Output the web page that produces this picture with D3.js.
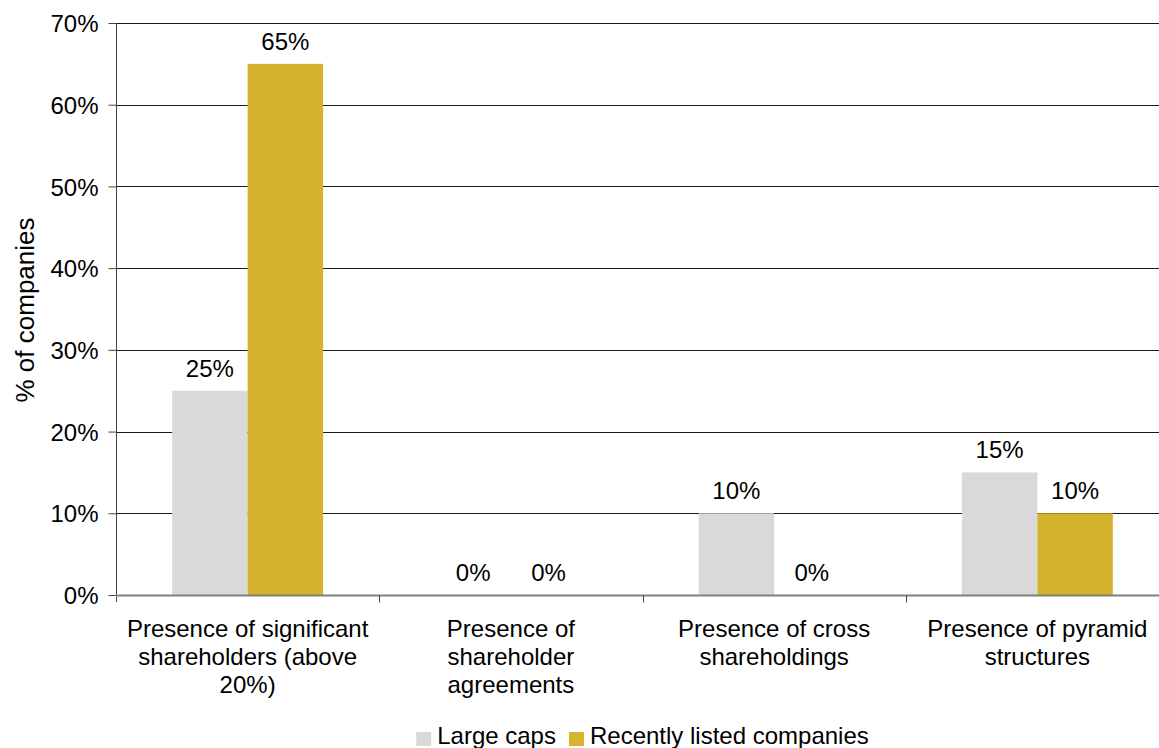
<!DOCTYPE html>
<html>
<head>
<meta charset="utf-8">
<script src="https://cdn.jsdelivr.net/npm/d3@7"></script>
<style>
  html, body { margin: 0; padding: 0; background: #fff; }
  svg { display: block; font-family: "Liberation Sans", Arial, sans-serif; }
</style>
</head>
<body>
<svg id="chart" width="1159" height="748"></svg>
<script>
const categories = [
  "Presence of significant shareholders (above 20%)",
  "Presence of shareholder agreements",
  "Presence of cross shareholdings",
  "Presence of pyramid structures"
];
const categoryLines = [
  ["Presence of significant", "shareholders (above", "20%)"],
  ["Presence of", "shareholder", "agreements"],
  ["Presence of cross", "shareholdings"],
  ["Presence of pyramid", "structures"]
];
const seriesNames = ["Large caps", "Recently listed companies"];
const largeCaps = [0.25, 0.00, 0.10, 0.15];
const recentlyListed = [0.65, 0.00, 0.00, 0.10];
const yTicks = [0, 0.1, 0.2, 0.3, 0.4, 0.5, 0.6, 0.7];
const colors = ["#d9d9d9", "#d6b32c"];

const FONT = 24;
const svg = d3.select("#chart");
const mLeft = 116, mRight = 1169, mTop = 23, mBottom = 595;

const x0 = d3.scaleBand().domain(categories).range([mLeft, mRight]).padding(0);
const x1 = d3.scaleBand().domain(seriesNames).range([0, x0.bandwidth()]).paddingInner(0).paddingOuter(0.744);
const y = d3.scaleLinear().domain([0, 0.7]).range([mBottom, mTop]);

// gridlines
svg.append("g").selectAll("line").data(yTicks.filter(d => d > 0)).join("line")
  .attr("x1", mLeft).attr("x2", 1159)
  .attr("y1", d => Math.round(y(d)) + 0.5).attr("y2", d => Math.round(y(d)) + 0.5)
  .attr("stroke", "#1a1a1a").attr("stroke-width", 1);

// y axis
const yAxis = d3.axisLeft(y).tickValues(yTicks).tickFormat(d3.format(".0%")).tickSize(8).tickPadding(10);
const gy = svg.append("g").attr("transform", `translate(${mLeft + 0.5},0)`).call(yAxis);
gy.select(".domain").attr("stroke", "#444").attr("d", `M0,${mTop}V${mBottom + 7}`);
gy.selectAll(".tick line").attr("stroke", "#444");
gy.selectAll(".tick text").attr("font-size", FONT).attr("fill", "#000").attr("font-family", "Liberation Sans, Arial, sans-serif").attr("dy", "0.36em");

// bars
const data = categories.map((c, i) => ({ c, vals: [largeCaps[i], recentlyListed[i]] }));
const groups = svg.append("g").selectAll("g").data(data).join("g")
  .attr("transform", d => `translate(${x0(d.c)},0)`);
groups.selectAll("rect").data(d => d.vals.map((v, j) => ({ v, s: seriesNames[j], j }))).join("rect")
  .attr("x", d => x1(d.s)).attr("width", x1.bandwidth())
  .attr("y", d => y(d.v)).attr("height", d => y(0) - y(d.v))
  .attr("fill", d => colors[d.j]);
groups.selectAll("text").data(d => d.vals.map((v, j) => ({ v, s: seriesNames[j], j }))).join("text")
  .attr("x", d => x1(d.s) + x1.bandwidth() / 2).attr("y", d => y(d.v) - 14)
  .attr("text-anchor", "middle").attr("font-size", FONT).attr("fill", "#000")
  .text(d => d3.format(".0%")(d.v));

// x axis
const xAxis = d3.axisBottom(x0).tickSize(0).tickFormat("");
const gx = svg.append("g").attr("transform", `translate(0,${mBottom + 0.5})`).call(xAxis);
gx.select(".domain").attr("stroke", "#808080").attr("stroke-width", 2).attr("d", `M${mLeft},0H1159`);
gx.selectAll(".tick").remove();
const boundaries = categories.slice(1).map(c => x0(c));
gx.selectAll("line.sep").data(boundaries).join("line").attr("class", "sep")
  .attr("x1", d => Math.round(d) + 0.5).attr("x2", d => Math.round(d) + 0.5)
  .attr("y1", 0).attr("y2", 7).attr("stroke", "#444");

// category labels
const lab = svg.append("g").selectAll("text").data(categories).join("text")
  .attr("text-anchor", "middle").attr("font-size", FONT).attr("fill", "#000")
  .attr("transform", d => `translate(${x0(d) + x0.bandwidth() / 2},637)`);
lab.selectAll("tspan").data((d, i) => categoryLines[i]).join("tspan")
  .attr("x", 0).attr("dy", (d, k) => k === 0 ? 0 : 28).text(d => d);

// y label
svg.append("text").attr("transform", "translate(34,310) rotate(-90)")
  .attr("text-anchor", "middle").attr("font-size", 26).attr("fill", "#000")
  .text("% of companies");

// legend
const lg = svg.append("g");
let cx = 0;
seriesNames.forEach((s, i) => {
  lg.append("rect").attr("x", cx).attr("y", -12).attr("width", 15).attr("height", 14).attr("fill", colors[i]);
  const t = lg.append("text").attr("x", cx + 21).attr("y", 0).attr("font-size", FONT).attr("fill", "#000").text(s);
  cx += 21 + t.node().getComputedTextLength() + 13;
});
const lgW = cx - 13;
lg.attr("transform", `translate(${(mLeft + mRight) / 2 - lgW / 2},744)`);
</script>
</body>
</html>
